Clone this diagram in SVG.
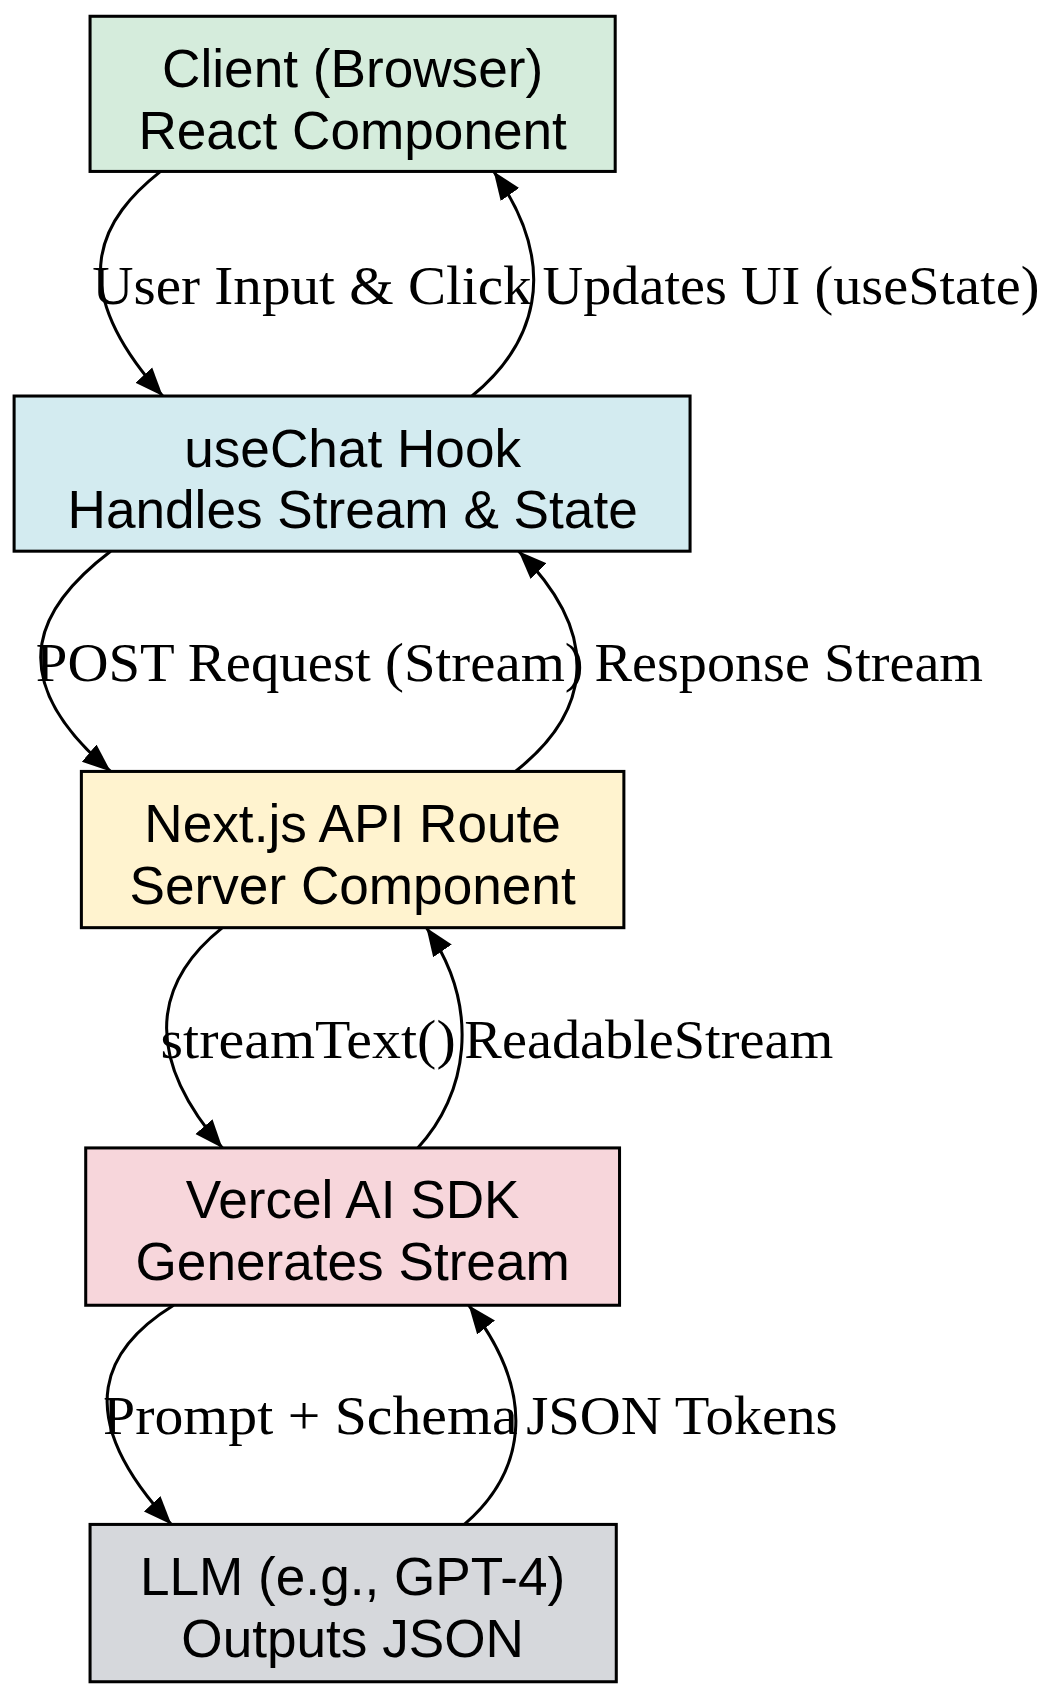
<svg xmlns="http://www.w3.org/2000/svg" width="1057" height="1700" viewBox="0 0 1057 1700">
<style>
.n{stroke:#000;stroke-width:2.8}
.t{font-family:"Liberation Sans",Arial,sans-serif;font-size:49px;text-anchor:middle}
.l{font-family:"Liberation Serif","Times New Roman",serif;font-size:51px}
.e{fill:none;stroke:#000;stroke-width:2.8}
</style>
<defs><marker id="b" viewBox="0 0 10 10" refX="10" refY="5" markerWidth="26" markerHeight="26" markerUnits="userSpaceOnUse" orient="auto"><path d="M0,1L10,5L0,9z"/></marker></defs>
<rect width="1057" height="1700" fill="#fff"/>
<g transform="scale(1.085)">
<g id="connectors">
<path class="e" marker-end="url(#b)" d="M148,158 C95,200 55,260 150,365"/>
<path class="e" marker-end="url(#b)" d="M435,365 C490,320 520,250 455,158"/>
<path class="e" marker-end="url(#b)" d="M102,508 C40,555 -5,620 102,711"/>
<path class="e" marker-end="url(#b)" d="M475,711 C540,660 560,590 478,508"/>
<path class="e" marker-end="url(#b)" d="M205,855 C155,895 120,960 205,1058"/>
<path class="e" marker-end="url(#b)" d="M385,1058 C430,1010 445,930 393,855"/>
<path class="e" marker-end="url(#b)" d="M160,1203 C100,1240 60,1300 158,1405"/>
<path class="e" marker-end="url(#b)" d="M428,1405 C480,1360 500,1290 432,1203"/>
<text class="l" x="85" y="280" textLength="405" lengthAdjust="spacingAndGlyphs">User Input &amp; Click</text>
<text class="l" x="500" y="280" textLength="458" lengthAdjust="spacingAndGlyphs">Updates UI (useState)</text>
<text class="l" x="33" y="628" textLength="505" lengthAdjust="spacingAndGlyphs">POST Request (Stream)</text>
<text class="l" x="548" y="628" textLength="358" lengthAdjust="spacingAndGlyphs">Response Stream</text>
<text class="l" x="148" y="975" textLength="272" lengthAdjust="spacingAndGlyphs">streamText()</text>
<text class="l" x="428" y="975" textLength="340" lengthAdjust="spacingAndGlyphs">ReadableStream</text>
<text class="l" x="95" y="1322" textLength="382" lengthAdjust="spacingAndGlyphs">Prompt + Schema</text>
<text class="l" x="485" y="1322" textLength="287" lengthAdjust="spacingAndGlyphs">JSON Tokens</text>
</g>
<g id="client"><rect class="n" x="83" y="15" width="484" height="143" fill="#d5ecdc"/><text class="t" x="325" y="80">Client (Browser)</text><text class="t" x="325" y="137">React Component</text></g>
<g id="usechat"><rect class="n" x="13" y="365" width="623" height="143" fill="#d3ebf0"/><text class="t" x="325" y="430">useChat Hook</text><text class="t" x="325" y="487">Handles Stream &amp; State</text></g>
<g id="api"><rect class="n" x="75" y="711" width="500" height="144" fill="#fff3cf"/><text class="t" x="325" y="776">Next.js API Route</text><text class="t" x="325" y="833">Server Component</text></g>
<g id="sdk"><rect class="n" x="79" y="1058" width="492" height="145" fill="#f7d6db"/><text class="t" x="325" y="1123">Vercel AI SDK</text><text class="t" x="325" y="1180">Generates Stream</text></g>
<g id="llm"><rect class="n" x="83" y="1405" width="485" height="145" fill="#d6d8dc"/><text class="t" x="325" y="1470">LLM (e.g., GPT-4)</text><text class="t" x="325" y="1527">Outputs JSON</text></g>
</g>
</svg>
